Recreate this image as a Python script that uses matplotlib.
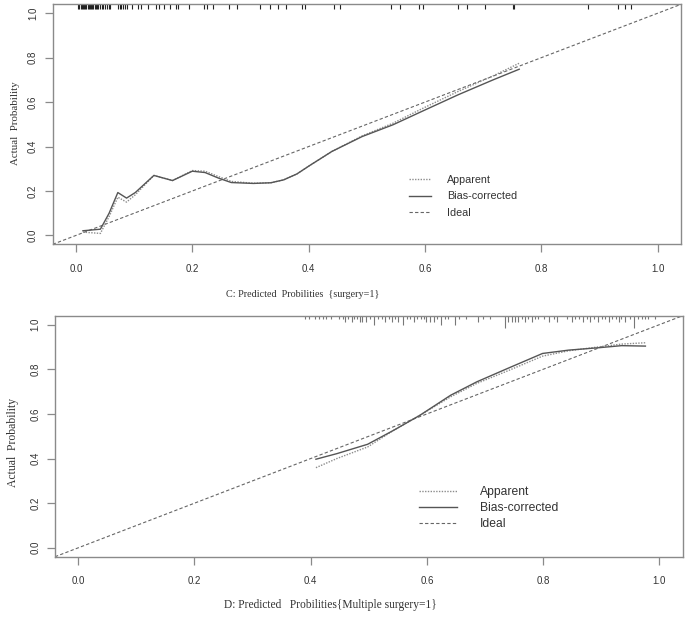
import matplotlib
matplotlib.use("Agg")
import matplotlib.pyplot as plt
from matplotlib import font_manager as fm
from matplotlib.lines import Line2D
import matplotlib.transforms as mtransforms

# ---------------- data ----------------
top_pred = [0.012, 0.042, 0.057, 0.072, 0.087, 0.102, 0.134, 0.166, 0.200, 0.222, 0.245,
            0.267, 0.305, 0.335, 0.357, 0.380, 0.402, 0.440, 0.492, 0.545, 0.597, 0.657,
            0.717, 0.762]
top_bias = [0.021, 0.028, 0.100, 0.193, 0.168, 0.193, 0.270, 0.247, 0.289, 0.283, 0.258,
            0.238, 0.234, 0.237, 0.250, 0.277, 0.315, 0.378, 0.445, 0.498, 0.561, 0.633,
            0.700, 0.748]
top_app = [0.015, 0.009, 0.085, 0.172, 0.150, 0.183, 0.270, 0.247, 0.292, 0.289, 0.265,
           0.243, 0.235, 0.237, 0.250, 0.277, 0.315, 0.378, 0.448, 0.505, 0.573, 0.648,
           0.718, 0.775]
top_rug = [0.004, 0.006, 0.008, 0.010, 0.012, 0.014, 0.016, 0.018, 0.020, 0.022, 0.024,
           0.026, 0.028, 0.030, 0.032, 0.034, 0.036, 0.038, 0.041, 0.044, 0.047, 0.050,
           0.053, 0.056, 0.059, 0.072, 0.075, 0.078, 0.081, 0.084, 0.087, 0.0965, 0.106,
           0.112, 0.123, 0.1375, 0.143, 0.152, 0.161, 0.172, 0.176, 0.194, 0.220, 0.226,
           0.236, 0.263, 0.277, 0.317, 0.334, 0.348, 0.361, 0.388, 0.393, 0.443, 0.454,
           0.542, 0.557, 0.590, 0.596, 0.657, 0.672, 0.704, 0.751, 0.753, 0.881, 0.932,
           0.944, 0.954]

bot_pred = [0.409, 0.445, 0.498, 0.543, 0.588, 0.641, 0.686, 0.739, 0.799, 0.844, 0.897,
            0.935, 0.976]
bot_bias = [0.397, 0.422, 0.464, 0.527, 0.594, 0.684, 0.744, 0.804, 0.871, 0.886, 0.897,
            0.906, 0.904]
bot_app = [0.359, 0.400, 0.452, 0.527, 0.594, 0.677, 0.737, 0.793, 0.859, 0.883, 0.901,
           0.913, 0.919]
bot_rug = [0.390, 0.397, 0.408, 0.415, 0.421, 0.426, 0.435, 0.449, 0.455, 0.459, 0.465,
           0.471, 0.475, 0.479, 0.485, 0.489, 0.496, 0.502, 0.509, 0.516, 0.523, 0.528,
           0.534, 0.540, 0.545, 0.551, 0.559, 0.565, 0.571, 0.578, 0.583, 0.589, 0.595,
           0.599, 0.606, 0.612, 0.618, 0.625, 0.631, 0.637, 0.649, 0.655, 0.667, 0.688,
           0.696, 0.709, 0.735, 0.740, 0.747, 0.752, 0.757, 0.763, 0.768, 0.774, 0.780,
           0.786, 0.791, 0.801, 0.810, 0.818, 0.824, 0.841, 0.850, 0.855, 0.861, 0.868,
           0.875, 0.881, 0.887, 0.894, 0.901, 0.907, 0.913, 0.918, 0.925, 0.930, 0.934,
           0.941, 0.950, 0.957, 0.964, 0.970, 0.975, 0.981, 0.993]
bot_rug_count = [1, 1, 1, 1, 1, 1, 1, 1, 1, 2, 1,
                 2, 1, 1, 2, 2, 2, 1, 3, 1, 1, 2,
                 1, 2, 1, 2, 3, 1, 1, 2, 1, 1, 1,
                 2, 2, 2, 1, 3, 1, 1, 3, 1, 1, 2,
                 1, 1, 4, 2, 2, 2, 2, 1, 2, 1, 2,
                 1, 1, 1, 2, 1, 2, 1, 2, 1, 1, 2,
                 1, 2, 1, 2, 1, 1, 2, 1, 1, 2, 1,
                 2, 1, 4, 1, 1, 1, 1, 1]

ticks = [0.0, 0.2, 0.4, 0.6, 0.8, 1.0]
tick_labels = ["0.0", "0.2", "0.4", "0.6", "0.8", "1.0"]
legend_labels = ["Apparent", "Bias-corrected", "Ideal"]
top_xlabel = "C: Predicted  Probilities  {surgery=1}"
bot_xlabel = "D: Predicted   Probilities{Multiple surgery=1}"
ylabel = "Actual  Probability"

# ---------------- fonts ----------------
avail = {f.name for f in fm.fontManager.ttflist}
narrow = "Liberation Sans Narrow" in avail
SANS = "Liberation Sans Narrow" if narrow else "Liberation Sans"
SERIF = "Liberation Serif"
k = 1.0 if narrow else 0.82

C_FRAME = "#8a8a8a"
C_TEXT = "#333333"
C_BIAS = "#555555"
C_APP = "#8c8c8c"
C_IDEAL = "#666666"

fig = plt.figure(figsize=(6.85, 6.19), dpi=100)
ax1 = fig.add_axes([0.0769, 0.6053, 0.9172, 0.3877])
ax2 = fig.add_axes([0.0803, 0.1006, 0.9162, 0.3893])


def style(ax, tick_fs):
    ax.set_xlim(-0.04, 1.04)
    ax.set_ylim(-0.04, 1.04)
    for s in ax.spines.values():
        s.set_color(C_FRAME)
        s.set_linewidth(1.0)
    ax.set_xticks(ticks)
    ax.set_xticklabels(tick_labels, family=SANS, fontsize=tick_fs, color=C_TEXT)
    ax.set_yticks(ticks)
    ax.set_yticklabels(tick_labels, family=SANS, fontsize=tick_fs, color=C_TEXT,
                       rotation=90, va="center")
    ax.tick_params(axis="x", direction="out", length=6, width=0.9, color=C_FRAME, pad=8)
    ax.tick_params(axis="y", direction="out", length=5.5, width=0.9, color=C_FRAME, pad=5)


def draw(ax, pred, app, bias, rug, rug_len, leg_fs, leg_anchor, handlelen, textpad,
         lspacing, rug_color):
    ax.axline((0, 0), (1, 1), color=C_IDEAL, lw=0.8, ls=(0, (3, 2)))
    ax.plot(pred, app, color=C_APP, lw=1.0, ls=(0, (1, 1)))
    ax.plot(pred, bias, color=C_BIAS, lw=1.0)
    trans = mtransforms.blended_transform_factory(ax.transData, ax.transAxes)
    for x, L in zip(rug, rug_len):
        ax.plot([x, x], [1.0, 1.0 - L], transform=trans, color=rug_color, lw=0.8,
                solid_capstyle="butt")
    handles = [Line2D([], [], color=C_APP, lw=1.0, ls=(0, (1, 1))),
               Line2D([], [], color=C_BIAS, lw=1.0),
               Line2D([], [], color=C_IDEAL, lw=0.8, ls=(0, (3, 2)))]
    ax.legend(handles, legend_labels, loc="upper left", bbox_to_anchor=leg_anchor,
              bbox_transform=ax.transData, frameon=False,
              prop={"family": SANS, "size": leg_fs}, handlelength=handlelen,
              handletextpad=textpad, labelspacing=lspacing, borderpad=0,
              borderaxespad=0, labelcolor=C_TEXT)


style(ax1, 8.6 * k)
style(ax2, 8.6 * k)

draw(ax1, top_pred, top_app, top_bias, top_rug, [0.018] * len(top_rug),
     9.5 * k, (0.573, 0.272), 2.05, 1.45, 0.6, "#222222")
draw(ax2, bot_pred, bot_app, bot_bias, bot_rug, [0.0125 * c + 0.001 for c in bot_rug_count],
     10.7 * k, (0.586, 0.275), 3.15, 1.9, 0.33, "#777777")

fig.text(0.442, 0.524, top_xlabel, family=SERIF, fontsize=7.3, color=C_TEXT,
         ha="center", va="center")
fig.text(0.483, 0.022, bot_xlabel, family=SERIF, fontsize=8.3, color=C_TEXT,
         ha="center", va="center")
fig.text(0.022, 0.801, ylabel, family=SERIF, fontsize=7.8, color=C_TEXT,
         ha="center", va="center", rotation=90)
fig.text(0.0185, 0.285, ylabel, family=SERIF, fontsize=8.4, color=C_TEXT,
         ha="center", va="center", rotation=90)

fig.savefig("out.png", dpi=100)
